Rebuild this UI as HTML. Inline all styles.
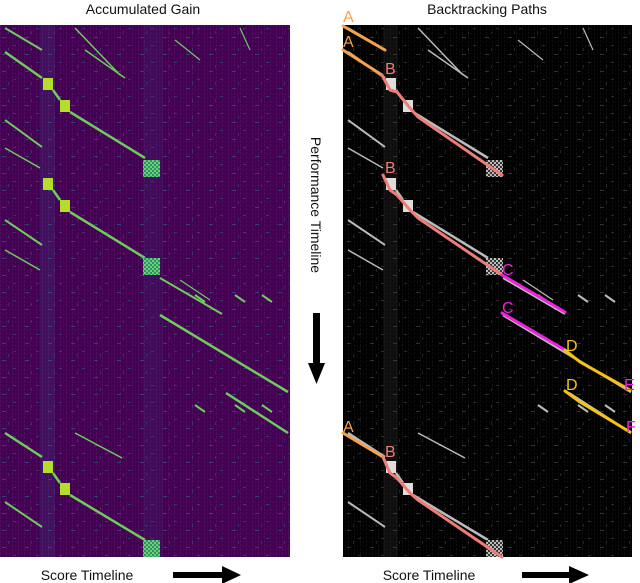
<!DOCTYPE html>
<html><head><meta charset="utf-8"><style>
html,body{margin:0;padding:0;background:#fff;width:640px;height:583px;overflow:hidden}
text{font-family:"Liberation Sans",sans-serif}
</style></head><body>
<svg id="fig" width="640" height="583" viewBox="0 0 640 583" xmlns="http://www.w3.org/2000/svg">
<defs>
<pattern id="vstripe" width="6" height="4" patternUnits="userSpaceOnUse"><rect x="0" y="0" width="1" height="3" fill="#fff" opacity="0.06"/><rect x="3" y="1" width="1" height="2" fill="#fff" opacity="0.04"/></pattern>
<pattern id="dash" width="23" height="17" patternUnits="userSpaceOnUse"><rect x="2" y="3" width="4" height="1" fill="#26828e" opacity="0.5"/><rect x="13" y="11" width="3" height="1" fill="#26828e" opacity="0.4"/><rect x="8" y="14" width="1" height="3" fill="#26828e" opacity="0.35"/></pattern>
<pattern id="dashG" width="23" height="17" patternUnits="userSpaceOnUse"><rect x="2" y="3" width="4" height="1" fill="#888" opacity="0.35"/><rect x="13" y="11" width="3" height="1" fill="#888" opacity="0.3"/><rect x="8" y="14" width="1" height="3" fill="#888" opacity="0.25"/></pattern>
<pattern id="checker" width="4" height="4" patternUnits="userSpaceOnUse"><rect width="4" height="4" fill="#21918c"/><rect width="2" height="2" fill="#7ad151"/><rect x="2" y="2" width="2" height="2" fill="#7ad151"/></pattern>
<pattern id="checkerG" width="4" height="4" patternUnits="userSpaceOnUse"><rect width="4" height="4" fill="#333"/><rect width="2" height="2" fill="#bbb"/><rect x="2" y="2" width="2" height="2" fill="#bbb"/></pattern>
</defs>
<text x="143" y="14" font-size="14" text-anchor="middle" fill="#111">Accumulated Gain</text>
<text x="487" y="14" font-size="14" text-anchor="middle" fill="#111">Backtracking Paths</text>
<g id="left">
<rect x="0" y="25" width="290" height="532" fill="#440154"/>
<rect x="0" y="25" width="290" height="532" fill="url(#vstripe)"/>
<rect x="0" y="25" width="290" height="532" fill="url(#dash)"/>
<rect x="40" y="25" width="15" height="532" fill="#3b528b" opacity="0.2"/>
<rect x="143" y="25" width="20" height="532" fill="#3b528b" opacity="0.12"/>
</g>
<g id="right">
<rect x="343" y="25" width="289" height="532" fill="#000"/>
<rect x="343" y="25" width="289" height="532" fill="url(#vstripe)"/>
<rect x="343" y="25" width="289" height="532" fill="url(#dashG)"/>
<rect x="383" y="25" width="15" height="532" fill="#444" opacity="0.2"/>
</g>
<text transform="translate(311,205) rotate(90)" font-size="14" text-anchor="middle" fill="#111">Performance Timeline</text>
<g><rect x="313" y="313" width="7" height="52" fill="#000"/><polygon points="308,363 325,363 316.5,384" fill="#000"/></g>
<text x="87" y="580" font-size="14" text-anchor="middle" fill="#111">Score Timeline</text>
<g><rect x="173" y="572" width="50" height="6" fill="#000"/><polygon points="222,566 222,584 241,575" fill="#000"/></g>
<text x="429" y="580" font-size="14" text-anchor="middle" fill="#111">Score Timeline</text>
<g><rect x="522" y="572" width="48" height="6" fill="#000"/><polygon points="569,566 569,584 589,575" fill="#000"/></g>
<g id="marks"></g>
</svg>
<script>
// bright diagonal segments [x1,y1,x2,y2] in panel-relative image coords
const segX1 = [5,5,53,70,5,5,75,85,53,70,5,5,160,160,226,5,53,70,5,75,240,175,180,195,235,262,195,235,262];
const segY1 = [28,52,90,112,120,148,28,50,190,212,220,250,278,315,393,433,473,495,502,433,28,40,280,295,295,295,405,405,405];
const segX2 = [42,42,60,145,42,40,120,125,60,145,42,40,222,288,288,42,60,145,42,122,250,200,210,205,245,272,205,245,272];
const segY2 = [50,78,100,158,147,168,75,78,200,258,245,270,314,392,433,457,483,540,527,458,50,60,300,302,302,302,412,412,412];
const segW  = [2,2.5,2.5,2.5,2,1.5,1.5,1.5,2.5,2.5,2,1.5,2,2.5,2.5,2.5,2.5,2.5,2,1.5,1.2,1.2,1.2,2,2,2,2,2,2];
// bright squares [x,y,w,h]
const sqX = [43,60,43,60,43,60];
const sqY = [78,100,178,200,461,483];
const sqW = [10,10,10,10,10,10];
const sqH = [12,12,12,12,12,12];
const ckX = [143,143,143];
const ckY = [160,258,540];
// backtracking paths (absolute coords)
const pathPts = [
 [[343,26],[385,50]],
 [[343,50],[382,75]],
 [[382,75],[390,90],[397,92],[410,108],[418,117],[502,175]],
 [[383,175],[390,190],[397,195],[410,210],[418,218],[502,275]],
 [[502,275],[565,312]],
 [[502,313],[565,350]],
 [[565,350],[580,362],[630,390]],
 [[565,391],[580,402],[630,432]],
 [[343,433],[383,457]],
 [[383,457],[390,473],[397,478],[410,493],[418,500],[502,557]]
];
const pathColors = ['#f6a04d','#f6a04d','#f07c78','#f07c78','#f020e0','#f020e0','#f5c310','#f5c310','#f6a04d','#f07c78'];
const labelText = ['A','A','B','B','C','C','D','D','E','F','A','B'];
const labelX = [343,343,385,385,502,502,566,566,624,626,343,385];
const labelY = [22,47,74,173,275,313,351,390,390,432,432,457];
const labelC = ['#f6a04d','#f6a04d','#f07c78','#f07c78','#f020e0','#f020e0','#f5c310','#f5c310','#f020e0','#f020e0','#f6a04d','#f07c78'];

const NS='http://www.w3.org/2000/svg';
const g=document.getElementById('marks');
function mk(t,a){const e=document.createElementNS(NS,t);for(const k in a)e.setAttribute(k,a[k]);g.appendChild(e);return e;}
[[0,'#6ccd5a','#b5de2b','url(#checker)','left'],[343,'#bbbbbb','#dddddd','url(#checkerG)','right']].forEach(([ox,lc,sc,ck,side])=>{
  for(let i=0;i<segX1.length;i++){
    const e=mk('line',{x1:segX1[i]+ox,y1:segY1[i],x2:segX2[i]+ox,y2:segY2[i],stroke:lc,'stroke-width':segW[i]});
    
    
  }
  for(let i=0;i<sqX.length;i++){
    const e=mk('rect',{x:sqX[i]+ox,y:sqY[i],width:sqW[i],height:sqH[i],fill:sc});
    
    
  }
  for(let i=0;i<ckX.length;i++){
    const e=mk('rect',{x:ckX[i]+ox,y:ckY[i],width:17,height:17,fill:ck});
    
    
  }
});
pathPts.forEach((p,i)=>{
  const e=mk('polyline',{points:p.map(q=>q.join(',')).join(' '),fill:'none',stroke:pathColors[i],'stroke-width':3,'stroke-linecap':'round','stroke-linejoin':'round'});
  
  
});
labelText.forEach((t,i)=>{
  const e=mk('text',{x:labelX[i],y:labelY[i],'font-size':16,fill:labelC[i]});
  e.textContent=t;
  
  
});
</script>
</body></html>
